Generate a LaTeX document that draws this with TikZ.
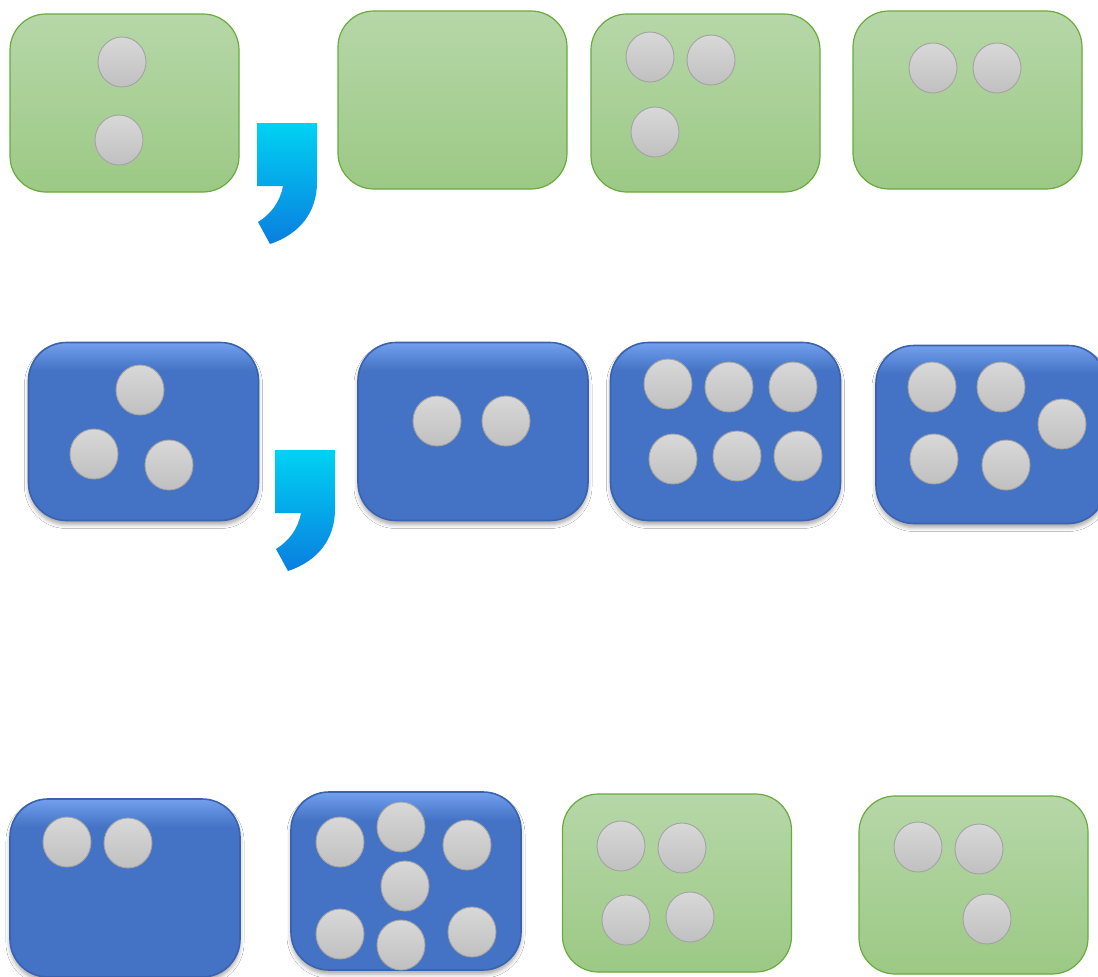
\documentclass[tikz,border=0pt]{standalone}
\usetikzlibrary{shapes.geometric,shadows.blur}
\definecolor{gtop}{HTML}{B6D7A8}
\definecolor{gbot}{HTML}{9CC985}
\definecolor{gedge}{HTML}{6AAA3E}
\definecolor{bmain}{HTML}{4472C4}
\definecolor{btop}{HTML}{72A0EE}
\definecolor{bedge}{HTML}{3A62AE}
\definecolor{dtop}{HTML}{D8D8D8}
\definecolor{dbot}{HTML}{C0C0C0}
\definecolor{dedge}{HTML}{A3A3A3}
\definecolor{ctop}{HTML}{00D2F2}
\definecolor{cbot}{HTML}{0A7EE0}
\pgfdeclareverticalshading{bluegrad}{100bp}{color(0bp)=(bmain); color(25bp)=(bmain); color(67bp)=(bmain); color(75bp)=(btop); color(100bp)=(btop)}
\tikzset{
  greenbox/.style={rectangle, rounded corners=36pt, minimum width=229pt, minimum height=178pt,
    inner sep=0pt, draw=gedge, line width=1.2pt, top color=gtop, bottom color=gbot},
  bluebox/.style={rectangle, rounded corners=38pt, minimum width=230pt, minimum height=178pt,
    inner sep=0pt, draw=bedge, line width=1.6pt, shading=bluegrad,
    blur shadow={shadow xshift=0pt, shadow yshift=-4pt, shadow blur radius=4pt, shadow opacity=35}},
  dot/.style={ellipse, minimum width=48pt, minimum height=50pt, inner sep=0pt,
    draw=dedge, line width=0.9pt, top color=dtop, bottom color=dbot},
  commashape/.style={top color=ctop, bottom color=cbot, draw=none}
}
\begin{document}
\begin{tikzpicture}[x=1pt,y=-1pt]
\useasboundingbox (0,0) rectangle (1098,977);
\fill[white] (0,0) rectangle (1098,977);
% row 1
\node[greenbox] (g1) at (124.5,103) {};
\node[greenbox] (g2) at (452.5,100) {};
\node[greenbox] (g3) at (705.5,103) {};
\node[greenbox] (g4) at (967.5,100) {};
% row 2
\node[bluebox] (b1) at (143.5,431.5) {};
\node[bluebox] (b2) at (473,431.5) {};
\node[bluebox] (b3) at (725.5,431.5) {};
\node[bluebox] (b4) at (991,434.5) {};
% row 3
\node[bluebox] (b5) at (125,888) {};
\node[bluebox] (b6) at (406,881) {};
\node[greenbox] (g5) at (677,883) {};
\node[greenbox] (g6) at (973.5,885) {};
% commas
\path[commashape] (257,123) -- (317,123) -- (317,182)
  .. controls (317,212) and (300,234) .. (270,244) -- (258,222)
  .. controls (271,214) and (280,202) .. (283,186) -- (257,186) -- cycle;
\begin{scope}[shift={(18,327)}]
\path[commashape] (257,123) -- (317,123) -- (317,182)
  .. controls (317,212) and (300,234) .. (270,244) -- (258,222)
  .. controls (271,214) and (280,202) .. (283,186) -- (257,186) -- cycle;
\end{scope}
% dots row 1
\node[dot] (g1a) at (122,62) {};
\node[dot] (g1b) at (119,140) {};
\node[dot] (g3a) at (650,57) {};
\node[dot] (g3b) at (711,60) {};
\node[dot] (g3c) at (655,132) {};
\node[dot] (g4a) at (933,68) {};
\node[dot] (g4b) at (997,68) {};
% dots row 2
\node[dot] (b1a) at (140,390) {};
\node[dot] (b1b) at (94,454) {};
\node[dot] (b1c) at (169,465) {};
\node[dot] (b2a) at (437,421) {};
\node[dot] (b2b) at (506,421) {};
\node[dot] (b3a) at (668,384) {};
\node[dot] (b3b) at (729,387) {};
\node[dot] (b3c) at (793,387) {};
\node[dot] (b3d) at (673,459) {};
\node[dot] (b3e) at (737,456) {};
\node[dot] (b3f) at (798,456) {};
\node[dot] (b4a) at (932,387) {};
\node[dot] (b4b) at (1001,387) {};
\node[dot] (b4c) at (1062,424) {};
\node[dot] (b4d) at (934,459) {};
\node[dot] (b4e) at (1006,465) {};
% dots row 3
\node[dot] (b5a) at (67,842) {};
\node[dot] (b5b) at (128,843) {};
\node[dot] (b6a) at (340,842) {};
\node[dot] (b6b) at (401,827) {};
\node[dot] (b6c) at (467,845) {};
\node[dot] (b6d) at (405,886) {};
\node[dot] (b6e) at (340,934) {};
\node[dot] (b6f) at (401,945) {};
\node[dot] (b6g) at (472,932) {};
\node[dot] (g5a) at (621,846) {};
\node[dot] (g5b) at (682,848) {};
\node[dot] (g5c) at (626,920) {};
\node[dot] (g5d) at (690,917) {};
\node[dot] (g6a) at (918,847) {};
\node[dot] (g6b) at (979,849) {};
\node[dot] (g6c) at (987,919) {};
\end{tikzpicture}
\end{document}
